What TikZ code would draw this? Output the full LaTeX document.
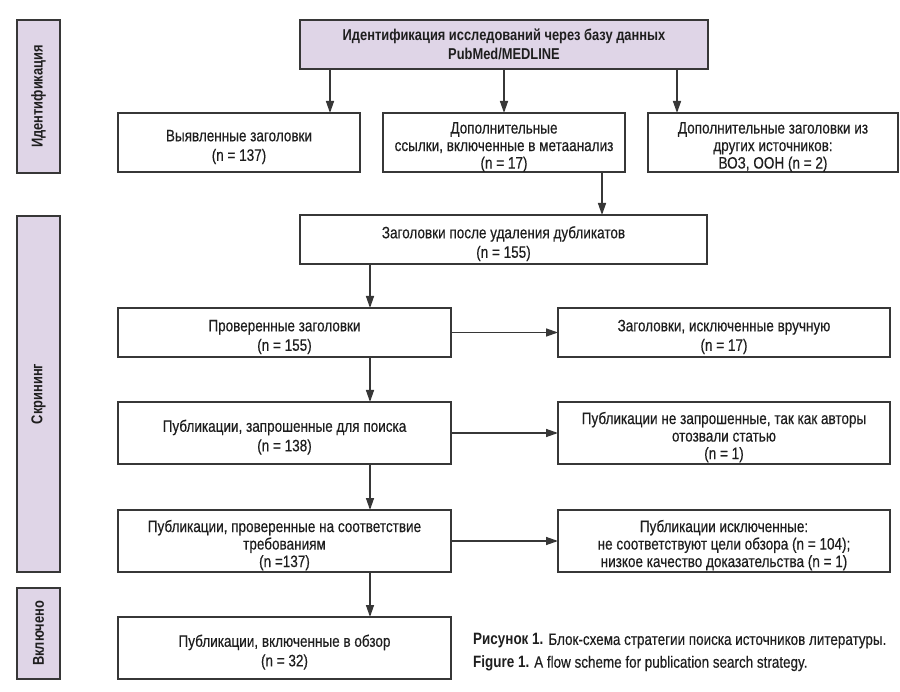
\documentclass[tikz,border=0pt]{standalone}
\usepackage{fontspec}
\setmainfont{Liberation Sans}[FakeStretch=0.82,UprightFeatures={FakeBold=0.35}]
\usetikzlibrary{arrows.meta,calc}
\definecolor{lav}{RGB}{223,213,231}
\definecolor{ln}{RGB}{55,55,55}
\definecolor{tx}{RGB}{30,30,30}
\newcommand{\dnstrut}{\rule{0pt}{20.5pt}}
\begin{document}
\begin{tikzpicture}[x=1pt,y=-1pt,
  box/.style={draw=ln,line width=1.4pt,fill=white,inner sep=0pt,outer sep=0pt,align=center,text=tx,
    font=\fontsize{16.5}{19.5}\selectfont},
  box3/.style={box,font=\fontsize{16.5}{17.5}\selectfont},
  topbox/.style={draw=ln,line width=1.4pt,fill=lav,inner sep=0pt,outer sep=0pt,align=center,text=tx,
    font=\fontsize{15.7}{18.5}\selectfont\bfseries},
  sidebar/.style={draw=ln,line width=1.4pt,fill=lav,inner sep=0pt,outer sep=0pt,rotate=90,text=tx,
    minimum height=43pt,font=\fontsize{15.7}{17}\selectfont\bfseries},
  arr/.style={draw=ln,line width=1.4pt,-{Triangle[length=12pt,width=8pt]}},
  captext/.style={anchor=west,inner sep=0pt,text=tx,font=\fontsize{16.4}{19}\selectfont}
]
\fill[white] (0,0) rectangle (900,692);
\useasboundingbox (0,0) rectangle (900,692);

% side bars
\node[sidebar,minimum width=153pt] (s1) at (38.5,96.5) {Идентификация};
\node[sidebar,minimum width=356pt] (s2) at (38.5,394) {Скрининг};
\node[sidebar,minimum width=91pt] (s3) at (38.5,633.5) {Включено};

% boxes
\node[topbox,minimum width=408pt,minimum height=49pt] (top) at (504,44.5)
  {Идентификация исследований через базу данных\\PubMed/MEDLINE};
\node[box,minimum width=242pt,minimum height=59pt] (A) at (239,142.5)
  {\dnstrut Выявленные заголовки\\(n = 137)};
\node[box3,minimum width=242pt,minimum height=59pt] (B) at (504,142.5)
  {\dnstrut Дополнительные\\ссылки, включенные в метаанализ\\(n = 17)};
\node[box3,minimum width=250pt,minimum height=59pt] (C) at (773,142.5)
  {\dnstrut Дополнительные заголовки из\\других источников:\\ВОЗ, ООН (n = 2)};
\node[box,minimum width=407pt,minimum height=49pt] (D) at (503.5,239.5)
  {\dnstrut Заголовки после удаления дубликатов\\(n = 155)};
\node[box,minimum width=333pt,minimum height=49pt] (E) at (284.5,332.5)
  {\dnstrut Проверенные заголовки\\(n = 155)};
\node[box,minimum width=332pt,minimum height=49pt] (F) at (724,332.5)
  {\dnstrut Заголовки, исключенные вручную\\(n = 17)};
\node[box,minimum width=333pt,minimum height=62pt] (G) at (284.5,433)
  {\dnstrut Публикации, запрошенные для поиска\\(n = 138)};
\node[box3,minimum width=332pt,minimum height=62pt] (H) at (724,433)
  {\dnstrut Публикации не запрошенные, так как авторы\\отозвали статью\\(n = 1)};
\node[box3,minimum width=333pt,minimum height=62pt] (I) at (284.5,541)
  {\dnstrut Публикации, проверенные на соответствие\\требованиям\\(n =137)};
\node[box3,minimum width=332pt,minimum height=62pt] (J) at (724,541)
  {\dnstrut Публикации исключенные:\\не соответствуют цели обзора (n = 104);\\низкое качество доказательства (n = 1)};
\node[box,minimum width=333pt,minimum height=62pt] (K) at (284.5,648)
  {\dnstrut Публикации, включенные в обзор\\(n = 32)};

% captions
\node[captext] (c1) at (473,641) {\textbf{Рисунок 1.} Блок-схема стратегии поиска источников литературы.};
\node[captext] (c2) at (473,663.5) {\textbf{Figure 1.} A flow scheme for publication search strategy.};

% connectors
\coordinate (xa) at (330,0);
\coordinate (xc) at (677,0);
\coordinate (xb) at (602,0);
\coordinate (xe) at (370,0);
\draw[arr] (top.south -| xa) -- (A.north -| xa);
\draw[arr] (top.south -| B.north) -- (B.north);
\draw[arr] (top.south -| xc) -- (C.north -| xc);
\draw[arr] (B.south -| xb) -- (D.north -| xb);
\draw[arr] (D.south -| xe) -- (E.north -| xe);
\draw[arr] (E.south -| xe) -- (G.north -| xe);
\draw[arr] (G.south -| xe) -- (I.north -| xe);
\draw[arr] (I.south -| xe) -- (K.north -| xe);
\draw[arr] (E.east) -- (F.west);
\draw[arr] (G.east) -- (H.west);
\draw[arr] (I.east) -- (J.west);
\end{tikzpicture}
\end{document}
